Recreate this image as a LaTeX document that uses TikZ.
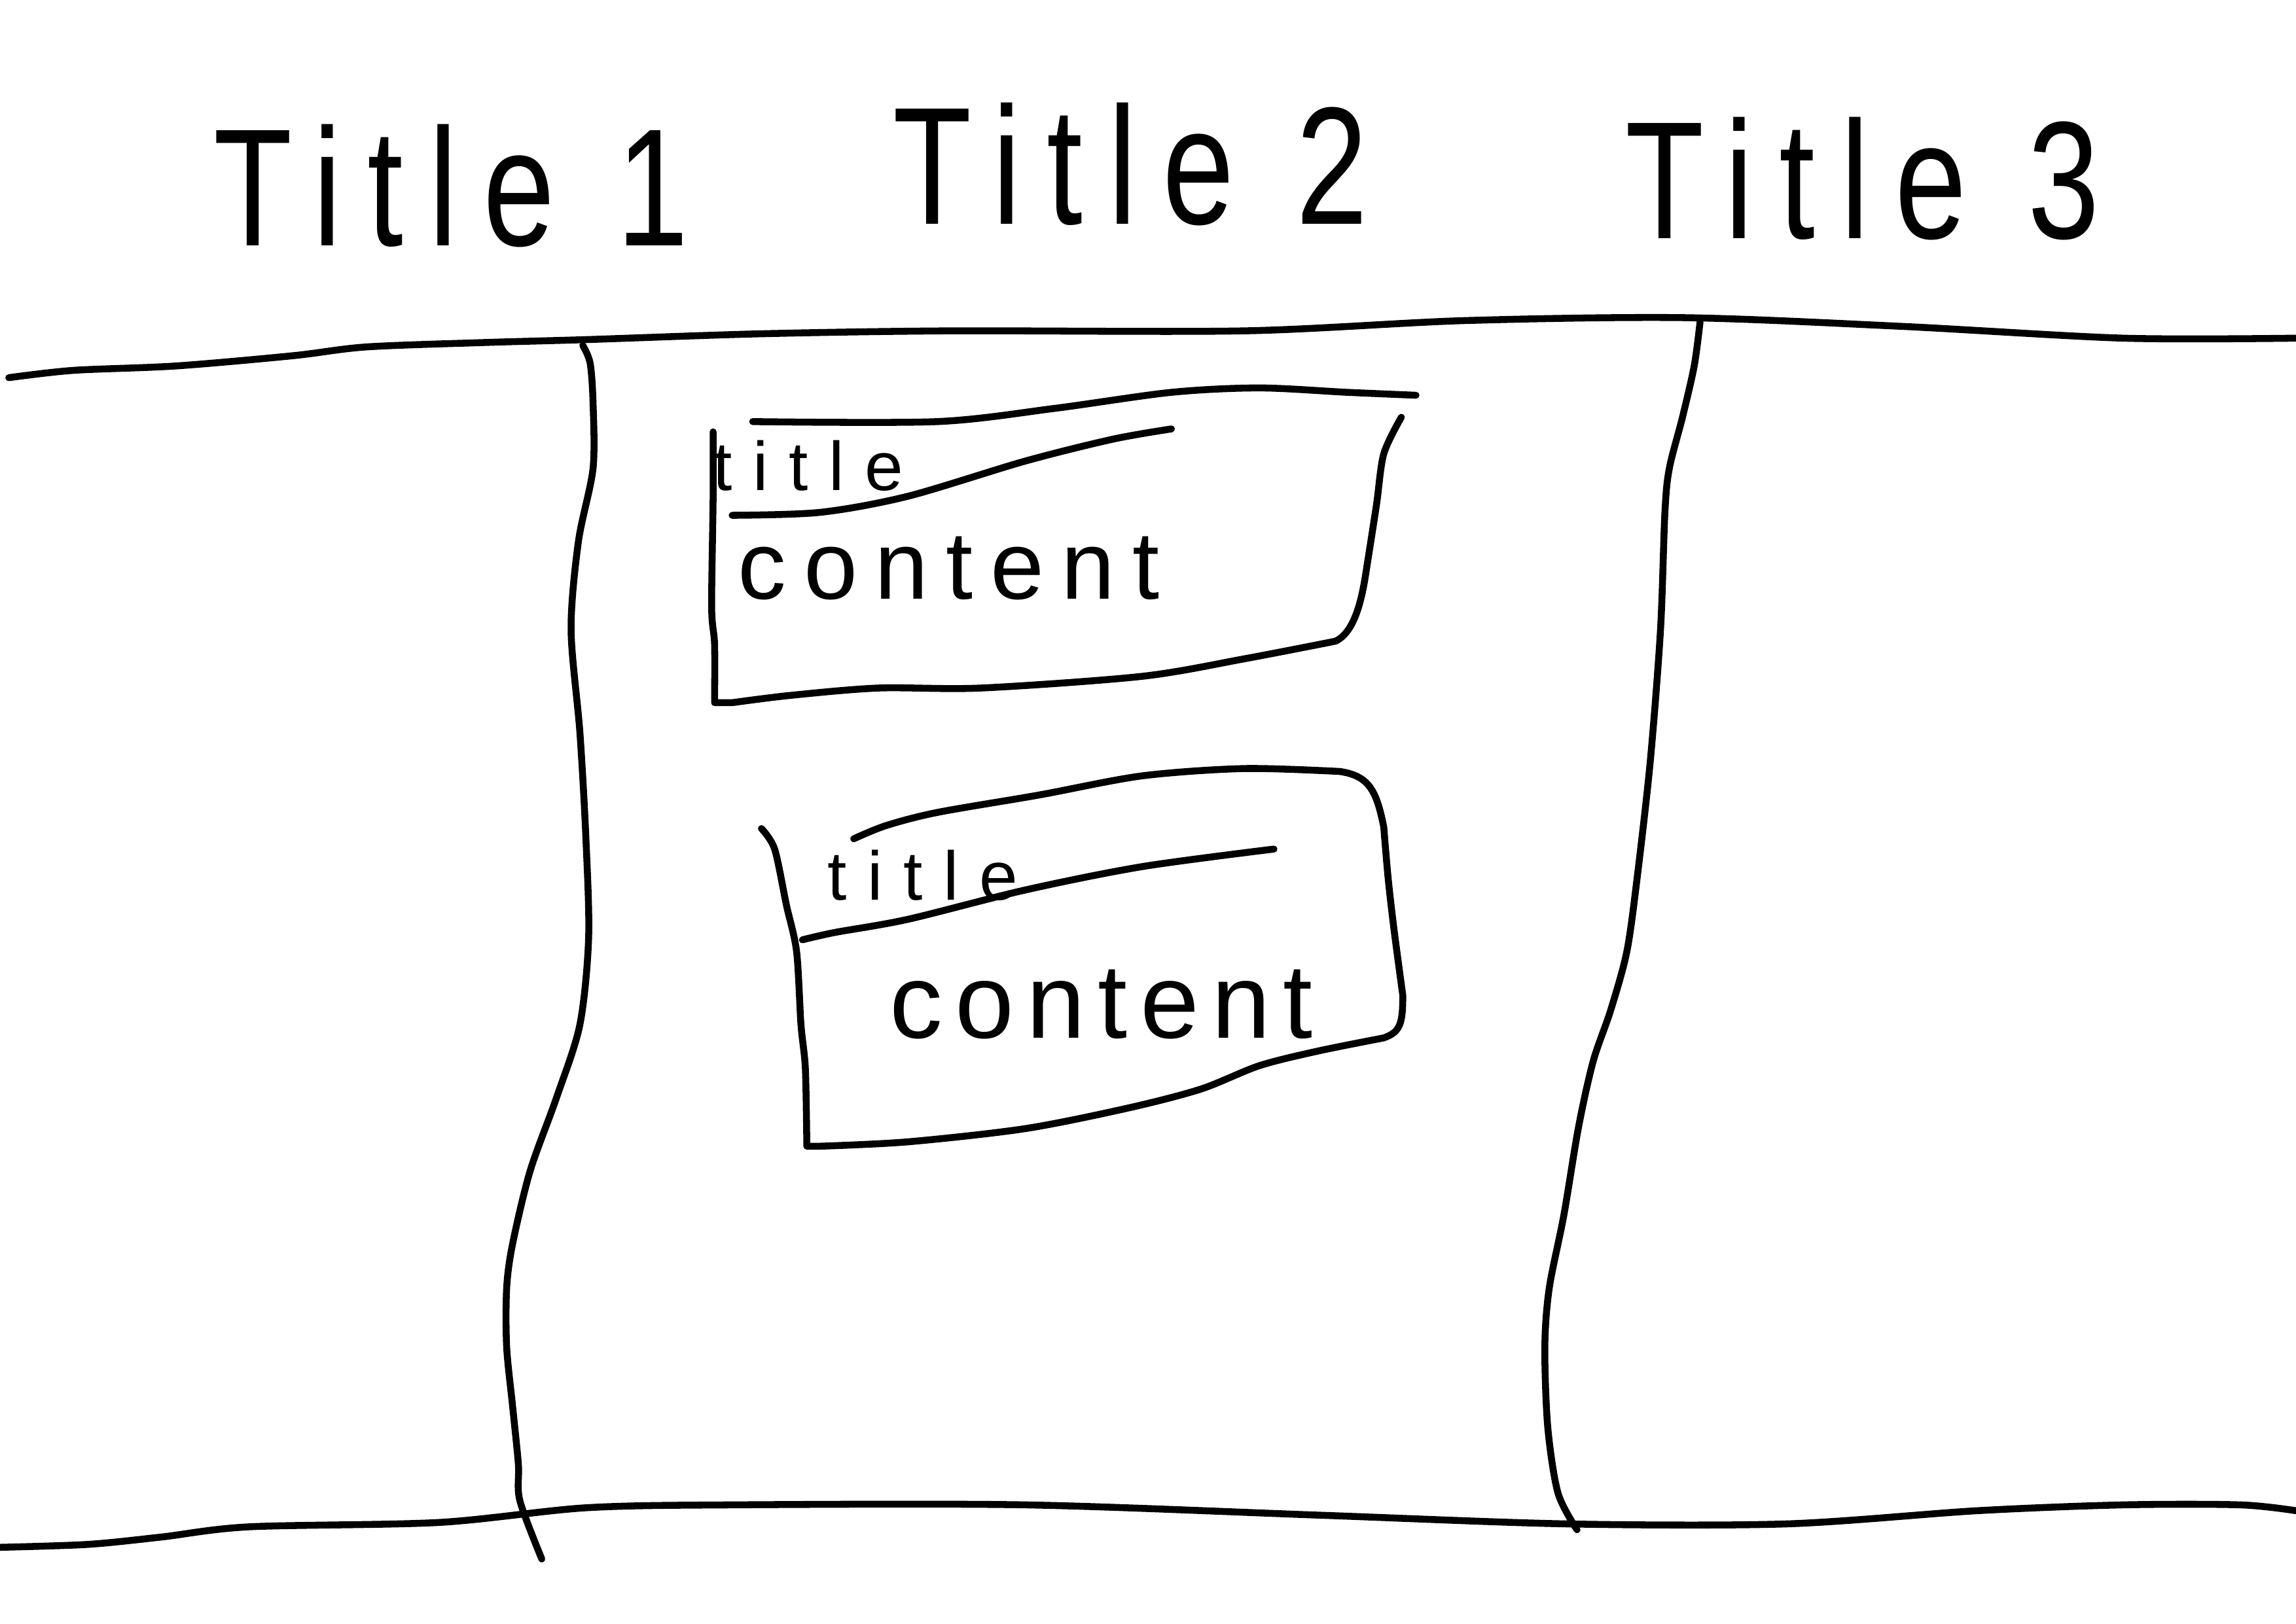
\documentclass[tikz,border=0pt]{standalone}
\usepackage{fontspec}
\setmainfont{Liberation Sans}
\newcommand{\tallbox}[1]{\scalebox{1}[1.3]{#1}}
\begin{document}
\begin{tikzpicture}[x=0.022372cm, y=-0.022372cm,
  ink/.style={line width=3pt, line cap=round, line join=round},
  coltitle/.style={font=\fontsize{56}{66}\selectfont\addfontfeature{LetterSpace=20}, inner sep=0pt},
  cardtitle/.style={font=\fontsize{30}{36}\selectfont\addfontfeature{LetterSpace=30}, inner sep=0pt},
  cardtext/.style={font=\fontsize{42}{50}\selectfont\addfontfeature{LetterSpace=18}, inner sep=0pt}]
\useasboundingbox (0,0) rectangle (1568,1109);
\fill[white] (0,0) rectangle (1568,1109);

% column titles
\node[coltitle] (t1) at (308,127) {\tallbox{Title 1}};
\node[coltitle] (t2) at (772,112) {\tallbox{Title 2}};
\node[coltitle] (t3) at (1272,122) {\tallbox{Title 3}};

% board top and bottom lines
\draw[ink] plot[smooth, tension=0.5] coordinates {(6,258) (50,253) (120,250) (200,243) (250,237) (330,234) (400,232) (520,228) (650,226) (850,226) (1000,219) (1150,217) (1300,223) (1450,231) (1568,231)};
\draw[ink] plot[smooth, tension=0.5] coordinates {(0,1057) (60,1055) (110,1050) (170,1043) (300,1040) (400,1030) (500,1028) (700,1028) (900,1035) (1070,1041) (1220,1041) (1350,1032) (1450,1028) (1530,1028) (1568,1032)};

% column dividers
\draw[ink] plot[smooth, tension=0.5] coordinates {(398,236) (403,248) (405,275) (405,320) (395,370) (390,430) (396,500) (400,570) (402,640) (396,700) (380,750) (362,800) (350,850) (346,880) (346,920) (350,960) (354,1000) (355,1025) (370,1065)};
\draw[ink] plot[smooth, tension=0.5] coordinates {(1161,220) (1157,250) (1149,285) (1140,320) (1137,350) (1134,430) (1127,520) (1118,600) (1111,650) (1100,690) (1088,725) (1078,770) (1068,830) (1058,880) (1055,920) (1057,975) (1064,1020) (1077,1045)};

% card 1
\draw[ink] plot[smooth, tension=0.5] coordinates {(487,295) (487,340) (486,415) (488,440) (488,480)} -- (500,480)
  plot[smooth, tension=0.5] coordinates {(500,480) (540,475) (600,470) (670,470) (780,462) (850,450) (912,438)}
  .. controls (925,432) and (930,410) .. (933,390)
  plot[smooth, tension=0.5] coordinates {(933,390) (940,345) (945,310) (957,285)};
\draw[ink] plot[smooth, tension=0.5] coordinates {(514,288) (640,288) (720,279) (800,268) (860,265) (920,268) (967,270)};
\draw[ink] plot[smooth, tension=0.5] coordinates {(500,352) (560,350) (620,339) (700,315) (760,300) (800,293)};
\node[cardtitle] (c1t) at (552,318) {title};
\node[cardtext] (c1c) at (648,388) {content};

% card 2
\draw[ink] plot[smooth, tension=0.5] coordinates {(520,566) (529,580) (537,618) (544,650) (547,700) (550,730) (551,783)}
  -- (560,783)
  plot[smooth, tension=0.5] coordinates {(560,783) (620,780) (700,771) (770,757) (820,744) (860,728) (900,718) (945,709)}
  .. controls (956,705) and (958,700) .. (958,680)
  plot[smooth, tension=0.5] coordinates {(958,680) (952,635) (948,600) (945,565)}
  .. controls (940,540) and (935,530) .. (915,527)
  plot[smooth, tension=0.5] coordinates {(915,527) (850,525) (780,530) (710,543) (640,555) (605,564) (583,573)};
\draw[ink] plot[smooth, tension=0.5] coordinates {(548,642) (570,637) (620,628) (700,608) (780,592) (870,580)};
\node[cardtitle] (c2t) at (630,598) {title};
\node[cardtext, font=\fontsize{46}{54}\selectfont\addfontfeature{LetterSpace=12}] (c2c) at (752,686) {content};
\end{tikzpicture}
\end{document}
